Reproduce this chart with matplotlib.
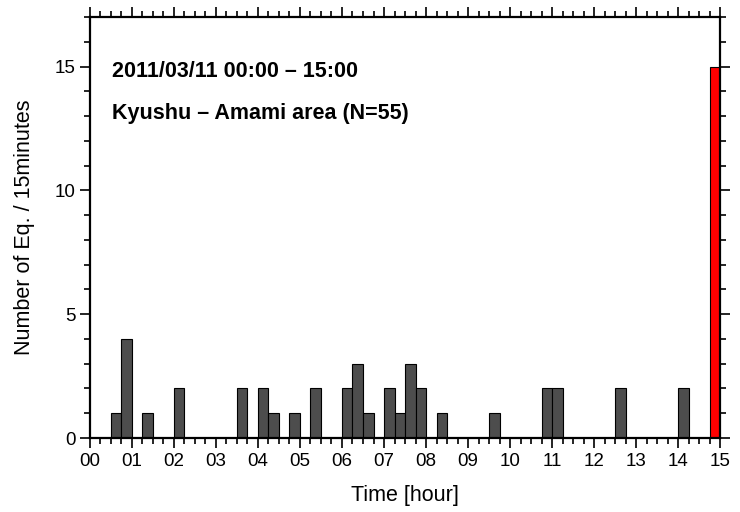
import numpy as np
import matplotlib
matplotlib.use("Agg")
import matplotlib.pyplot as plt
from matplotlib.ticker import MultipleLocator

plt.rcParams['font.family'] = ['Liberation Sans', 'DejaVu Sans']

# start hour of each 15-minute bin with events, and counts
bin_start = [0.50, 0.75, 1.25, 2.00, 3.50, 4.00, 4.25, 4.75, 5.25,
             6.00, 6.25, 6.50, 7.00, 7.25, 7.50, 7.75, 8.25, 9.50,
             10.75, 11.00, 12.50, 14.00, 14.75]
counts = [1, 4, 1, 2, 2, 2, 1, 1, 2,
          2, 3, 1, 2, 1, 3, 2, 1, 1,
          2, 2, 2, 2, 15]
hour_labels = ["%02d" % h for h in range(16)]

colors = ["#4d4d4d"] * (len(counts) - 1) + ["#ff0000"]

fig = plt.figure(figsize=(7.4, 5.12), dpi=100)
ax = fig.add_axes([0.1216, 0.1445, 0.8514, 0.8223])

ax.bar(bin_start, counts, width=0.25, align="edge", color=colors,
       edgecolor="black", linewidth=0.8)

ax.set_xlim(0, 15)
ax.set_ylim(0, 17)
ax.set_xticks(range(16))
ax.set_xticklabels(hour_labels)
ax.xaxis.set_minor_locator(MultipleLocator(0.25))
ax.set_yticks([0, 5, 10, 15])
ax.yaxis.set_minor_locator(MultipleLocator(1))
ax.tick_params(which="both", direction="out", top=True, right=True,
               labeltop=False, labelright=False, width=1.2, labelsize=13.5)
ax.tick_params(which="major", length=7)
ax.tick_params(which="minor", length=4)
for s in ax.spines.values():
    s.set_linewidth(1.6)

ax.set_xlabel("Time [hour]", fontsize=15.5, labelpad=11)
ax.set_ylabel("Number of Eq. / 15minutes", fontsize=15.5, labelpad=14)

ax.text(0.52, 14.8, "2011/03/11 00:00 \u2013 15:00", fontsize=15.5,
        fontweight="bold", va="center", ha="left")
ax.text(0.52, 13.1, "Kyushu \u2013 Amami area (N=55)", fontsize=15.5,
        fontweight="bold", va="center", ha="left")

fig.savefig("out.png", dpi=100)
